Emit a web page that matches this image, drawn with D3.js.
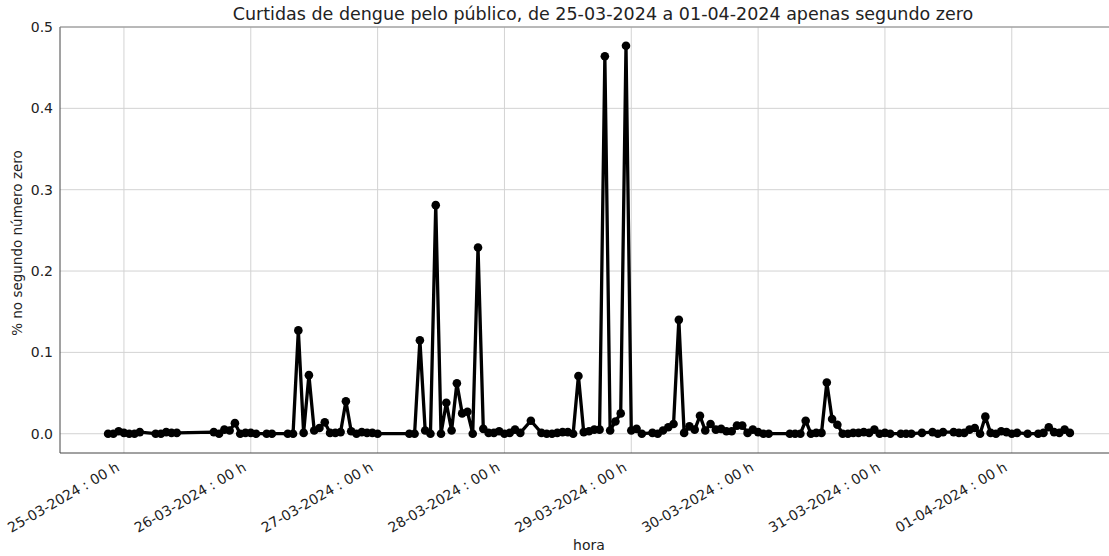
<!DOCTYPE html>
<html>
<head>
<meta charset="utf-8">
<script src="https://cdn.jsdelivr.net/npm/d3@7"></script>
<style>
  html, body { margin: 0; padding: 0; background: #fff; }
  svg { display: block; }
  text { font-family: "DejaVu Sans", sans-serif; fill: #222; }
</style>
</head>
<body>
<svg id="chart" width="1109" height="556"></svg>
<script>
// Hourly observations (day-month hour)
const times = [
  "2024-03-24 21","2024-03-24 22","2024-03-24 23",
  "2024-03-25 00","2024-03-25 01","2024-03-25 02","2024-03-25 03",
  "2024-03-25 06","2024-03-25 07","2024-03-25 08","2024-03-25 09","2024-03-25 10",
  "2024-03-25 17","2024-03-25 18","2024-03-25 19","2024-03-25 20","2024-03-25 21","2024-03-25 22","2024-03-25 23",
  "2024-03-26 00","2024-03-26 01","2024-03-26 03","2024-03-26 04","2024-03-26 07","2024-03-26 08","2024-03-26 09",
  "2024-03-26 10","2024-03-26 11","2024-03-26 12","2024-03-26 13","2024-03-26 14","2024-03-26 15","2024-03-26 16",
  "2024-03-26 17","2024-03-26 18","2024-03-26 19","2024-03-26 20","2024-03-26 21","2024-03-26 22","2024-03-26 23",
  "2024-03-27 00","2024-03-27 06","2024-03-27 07","2024-03-27 08","2024-03-27 09","2024-03-27 10","2024-03-27 11",
  "2024-03-27 12","2024-03-27 13","2024-03-27 14","2024-03-27 15","2024-03-27 16","2024-03-27 17","2024-03-27 18",
  "2024-03-27 19","2024-03-27 20","2024-03-27 21","2024-03-27 22","2024-03-27 23",
  "2024-03-28 00","2024-03-28 01","2024-03-28 02","2024-03-28 03","2024-03-28 05","2024-03-28 07","2024-03-28 08",
  "2024-03-28 09","2024-03-28 10","2024-03-28 11","2024-03-28 12","2024-03-28 13","2024-03-28 14","2024-03-28 15",
  "2024-03-28 16","2024-03-28 17","2024-03-28 18","2024-03-28 19","2024-03-28 20","2024-03-28 21","2024-03-28 22","2024-03-28 23",
  "2024-03-29 00","2024-03-29 01","2024-03-29 02","2024-03-29 04","2024-03-29 05","2024-03-29 06","2024-03-29 07",
  "2024-03-29 08","2024-03-29 09","2024-03-29 10","2024-03-29 11","2024-03-29 12","2024-03-29 13","2024-03-29 14",
  "2024-03-29 15","2024-03-29 16","2024-03-29 17","2024-03-29 18","2024-03-29 19","2024-03-29 20","2024-03-29 21",
  "2024-03-29 22","2024-03-29 23",
  "2024-03-30 00","2024-03-30 01","2024-03-30 02","2024-03-30 06","2024-03-30 07","2024-03-30 08","2024-03-30 09",
  "2024-03-30 10","2024-03-30 11","2024-03-30 12","2024-03-30 13","2024-03-30 14","2024-03-30 15","2024-03-30 16",
  "2024-03-30 17","2024-03-30 18","2024-03-30 19","2024-03-30 20","2024-03-30 21","2024-03-30 22","2024-03-30 23",
  "2024-03-31 00","2024-03-31 01","2024-03-31 03","2024-03-31 04","2024-03-31 05","2024-03-31 07","2024-03-31 09",
  "2024-03-31 10","2024-03-31 11","2024-03-31 13","2024-03-31 14","2024-03-31 15","2024-03-31 16","2024-03-31 17",
  "2024-03-31 18","2024-03-31 19","2024-03-31 20","2024-03-31 21","2024-03-31 22","2024-03-31 23",
  "2024-04-01 00","2024-04-01 01","2024-04-01 03","2024-04-01 05","2024-04-01 06","2024-04-01 07","2024-04-01 08",
  "2024-04-01 09","2024-04-01 10","2024-04-01 11"
];

// Share of sightings with zero in the seconds field
const values = [
  0, 0, 0.003,
  0.001, 0, 0, 0.002,
  0, 0, 0.002, 0.001, 0.001,
  0.002, 0, 0.005, 0.004, 0.013, 0, 0.001,
  0.001, 0, 0, 0, 0, 0, 0.127,
  0.001, 0.072, 0.004, 0.007, 0.014, 0.001, 0.001,
  0.002, 0.04, 0.003, 0, 0.002, 0.001, 0.001,
  0, 0, 0, 0.115, 0.004, 0, 0.281,
  0, 0.038, 0.004, 0.062, 0.025, 0.027, 0,
  0.229, 0.006, 0.001, 0.001, 0.003,
  0, 0.001, 0.005, 0.001, 0.016, 0.001, 0,
  0, 0.001, 0.002, 0.002, 0, 0.071, 0.002,
  0.003, 0.005, 0.005, 0.464, 0.004, 0.015, 0.025, 0.477,
  0.004, 0.006, 0, 0.001, 0, 0.004, 0.008,
  0.012, 0.14, 0.001, 0.009, 0.005, 0.022, 0.004,
  0.012, 0.005, 0.006, 0.003, 0.003, 0.01, 0.01,
  0.001, 0.005,
  0.002, 0, 0, 0, 0, 0, 0.016,
  0, 0.001, 0.001, 0.063, 0.018, 0.011, 0,
  0, 0.001, 0.001, 0.002, 0.001, 0.005, 0,
  0.001, 0, 0, 0, 0, 0.001, 0.002,
  0, 0.002, 0.002, 0.001, 0.001, 0.005, 0.007,
  0, 0.021, 0.001, 0, 0.003, 0.002,
  0, 0.001, 0, 0, 0.001, 0.008, 0.002,
  0.001, 0.005, 0.001
];

const xTickDates = [
  "2024-03-25 00","2024-03-26 00","2024-03-27 00","2024-03-28 00",
  "2024-03-29 00","2024-03-30 00","2024-03-31 00","2024-04-01 00"
];
const yTicks = [0, 0.1, 0.2, 0.3, 0.4, 0.5];

const titleText = "Curtidas de dengue pelo público, de 25-03-2024 a 01-04-2024 apenas segundo zero";
const xLabelText = "hora";
const yLabelText = "% no segundo número zero";

const parse = d3.timeParse("%Y-%m-%d %H");
const data = times.map((t, i) => ({ t: parse(t), v: values[i] }));

const svg = d3.select("#chart");
const plot = { left: 60, right: 1118, top: 27, bottom: 453 };

// 5% padding around the data extent on the time axis
const ext = d3.extent(data, d => d.t);
const pad = (ext[1] - ext[0]) * 0.05;
const x = d3.scaleTime()
  .domain([new Date(+ext[0] - pad), new Date(+ext[1] + pad)])
  .range([plot.left, plot.right]);

const y = d3.scaleLinear()
  .domain([-0.0237, 0.5])
  .range([plot.bottom, plot.top]);

svg.append("defs").append("clipPath").attr("id", "plotclip")
  .append("rect")
  .attr("x", plot.left).attr("y", plot.top - 6)
  .attr("width", plot.right - plot.left).attr("height", plot.bottom - plot.top + 6);

// grid
const grid = svg.append("g");
grid.selectAll("line.gx").data(xTickDates.map(parse)).join("line")
  .attr("x1", d => x(d)).attr("x2", d => x(d))
  .attr("y1", plot.top).attr("y2", plot.bottom)
  .attr("stroke", "#d3d3d3").attr("stroke-width", 1);
grid.selectAll("line.gy").data(yTicks).join("line")
  .attr("x1", plot.left).attr("x2", plot.right)
  .attr("y1", d => y(d)).attr("y2", d => y(d))
  .attr("stroke", "#d3d3d3").attr("stroke-width", 1);

// axes
const xAxis = d3.axisBottom(x)
  .tickValues(xTickDates.map(parse))
  .tickSize(0)
  .tickFormat(d3.timeFormat("%d-%m-%Y : %H h"));
const gx = svg.append("g")
  .attr("transform", `translate(0,${plot.bottom})`)
  .call(xAxis);
gx.select(".domain").remove();
gx.selectAll("text")
  .attr("font-size", 14)
  .attr("fill", "#222")
  .attr("text-anchor", "end")
  .attr("dy", null)
  .attr("y", 0)
  .attr("transform", "translate(-4,17) rotate(-30)");

const yAxis = d3.axisLeft(y)
  .tickValues(yTicks)
  .tickSize(0)
  .tickPadding(7)
  .tickFormat(d3.format(".1f"));
const gy = svg.append("g")
  .attr("transform", `translate(${plot.left},0)`)
  .call(yAxis);
gy.select(".domain").remove();
gy.selectAll("text").attr("font-size", 14).attr("fill", "#222");

// spines
svg.append("line")
  .attr("x1", plot.left).attr("x2", plot.left)
  .attr("y1", plot.top).attr("y2", plot.bottom)
  .attr("stroke", "#444").attr("stroke-width", 1);
svg.append("line")
  .attr("x1", plot.left).attr("x2", plot.right)
  .attr("y1", plot.bottom).attr("y2", plot.bottom)
  .attr("stroke", "#444").attr("stroke-width", 1);
svg.append("line")
  .attr("x1", plot.left).attr("x2", plot.right)
  .attr("y1", plot.top).attr("y2", plot.top)
  .attr("stroke", "#888").attr("stroke-width", 1);

// series
const g = svg.append("g").attr("clip-path", "url(#plotclip)");
g.append("path")
  .datum(data)
  .attr("fill", "none")
  .attr("stroke", "#000")
  .attr("stroke-width", 3.3)
  .attr("stroke-linejoin", "round")
  .attr("d", d3.line().x(d => x(d.t)).y(d => y(d.v)));
g.selectAll("circle").data(data).join("circle")
  .attr("cx", d => x(d.t)).attr("cy", d => y(d.v))
  .attr("r", 4.3).attr("fill", "#000");

// labels
svg.append("text")
  .attr("x", 603).attr("y", 20)
  .attr("text-anchor", "middle").attr("font-size", 17.5)
  .text(titleText);
svg.append("text")
  .attr("x", 589).attr("y", 550)
  .attr("text-anchor", "middle").attr("font-size", 14)
  .text(xLabelText);
svg.append("text")
  .attr("transform", "translate(22,243) rotate(-90)")
  .attr("text-anchor", "middle").attr("font-size", 13.5)
  .text(yLabelText);
</script>
</body>
</html>
